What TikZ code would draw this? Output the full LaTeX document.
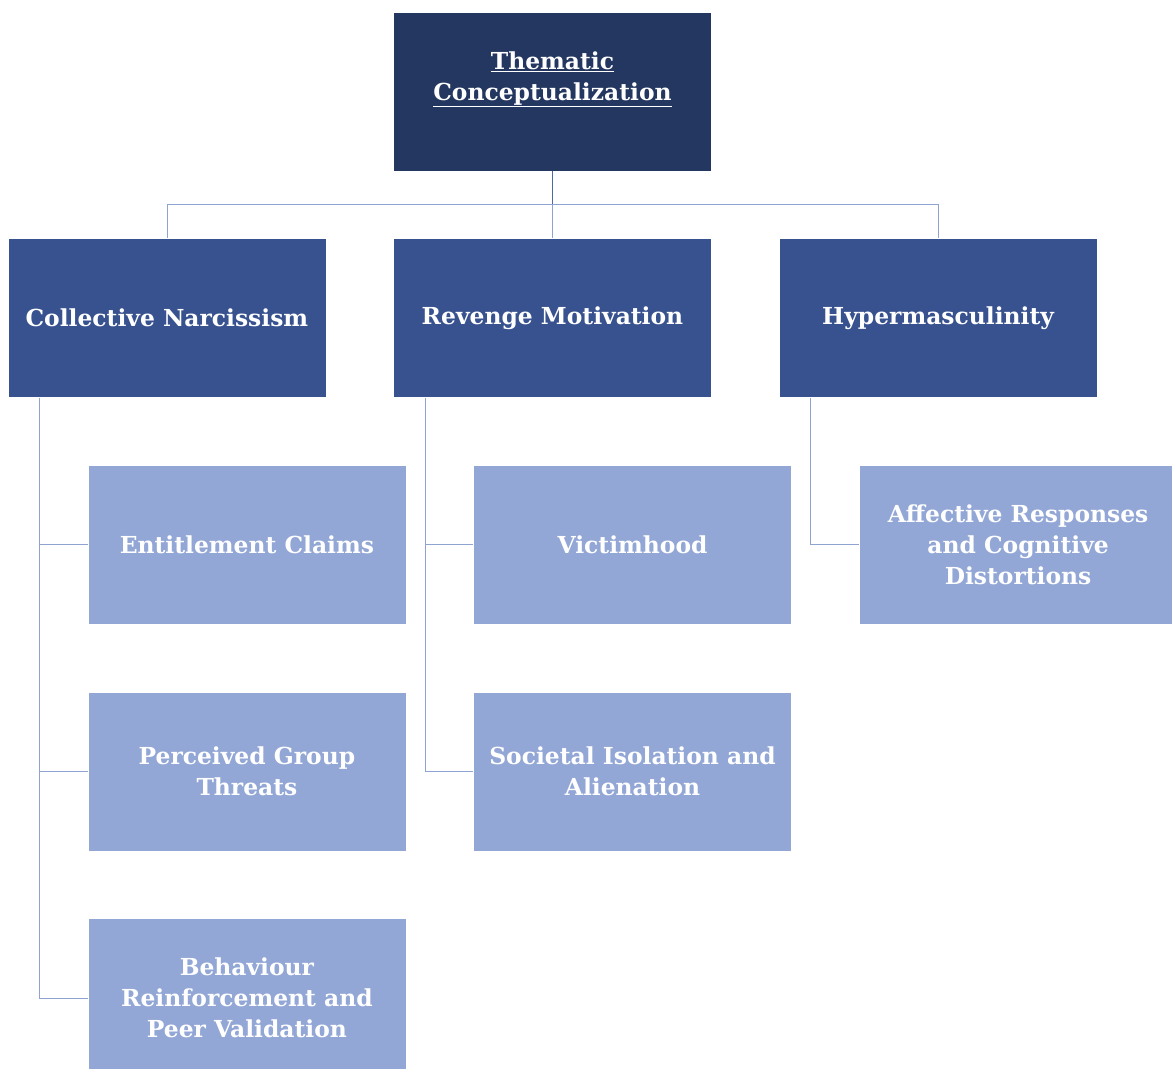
\documentclass[tikz,border=0pt]{standalone}
\usepackage{fontspec}
\setmainfont{DejaVu Serif}
\usetikzlibrary{positioning}
\definecolor{thTop}{HTML}{243760}
\definecolor{thMid}{HTML}{38528F}
\definecolor{thLow}{HTML}{93A7D6}
\definecolor{thLine}{HTML}{8FA3D0}
\definecolor{thStem}{HTML}{4F67A6}

\begin{document}
\begin{tikzpicture}[node distance=67pt, box/.style={draw=white,line width=.6pt,align=center,minimum width=318pt,minimum height=159pt,text=white,font=\bfseries\fontsize{23.4}{31}\selectfont}, topbox/.style={box,fill=thTop}, midbox/.style={box,fill=thMid}, lowbox/.style={box,fill=thLow}, link/.style={draw=thLine,line width=.8pt}]
\path[use as bounding box,clip] (0,0) rectangle (1172pt,-1068pt);
\node[topbox] (top) at (552.5pt,-91.5pt) {\underline{Thematic}\\\underline{Conceptualization}\\ };
\node[midbox,below=of top] (rev) {Revenge Motivation};
\node[midbox,left=of rev] (col) {Collective Narcissism};
\node[midbox,right=of rev] (hyp) {Hypermasculinity};
\node[lowbox,below=of col,xshift=80pt] (ent) {Entitlement Claims};
\node[lowbox,below=of ent] (thr) {Perceived Group\\Threats};
\node[lowbox,below=of thr] (beh) {Behaviour\\Reinforcement and\\Peer Validation};
\node[lowbox,below=of rev,xshift=80pt] (vic) {Victimhood};
\node[lowbox,below=of vic] (iso) {Societal Isolation and\\Alienation};
\node[lowbox,below=of hyp,xshift=80pt] (aff) {Affective Responses\\and Cognitive\\Distortions};
% tree links
\draw[draw=thStem,line width=.8pt] (top.south)--++(0,-33.5pt) coordinate (fork);
\draw[link] (fork)--(rev.north);\draw[link] (fork)-|(col.north);\draw[link] (fork)-|(hyp.north);
\draw[link] ([xshift=32pt]col.south west)|-(ent.west);\draw[link] ([xshift=32pt]col.south west)|-(thr.west);\draw[link] ([xshift=32pt]col.south west)|-(beh.west);
\draw[link] ([xshift=32pt]rev.south west)|-(vic.west);\draw[link] ([xshift=32pt]rev.south west)|-(iso.west);
\draw[link] ([xshift=32pt]hyp.south west)|-(aff.west);
\end{tikzpicture}
\end{document}
